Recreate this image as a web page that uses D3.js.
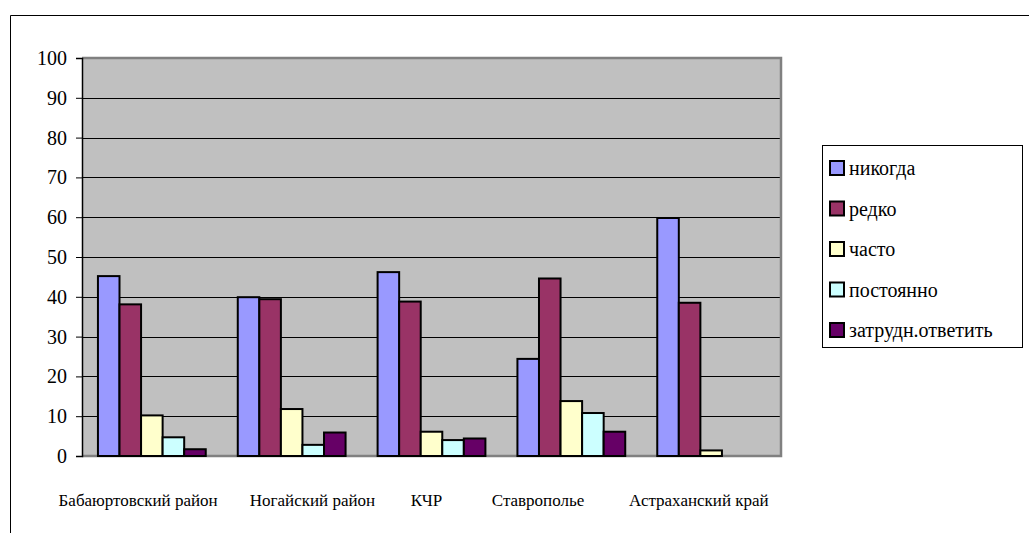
<!DOCTYPE html>
<html>
<head>
<meta charset="utf-8">
<script src="https://cdn.jsdelivr.net/npm/d3@7/dist/d3.min.js"></script>
<style>
  html, body { margin: 0; padding: 0; background: #fff; }
  #chart { display: block; }
  #chart text { font-family: "Liberation Serif", serif !important; }
</style>
</head>
<body>
<svg id="chart" width="1029" height="533"></svg>
<script>
// ---- data ----
const categories = ["Бабаюртовский район", "Ногайский район", "КЧР", "Ставрополье", "Астраханский край"];
const seriesNames = ["никогда", "редко", "часто", "постоянно", "затрудн.ответить"];
const nikogda    = [45.2, 39.9, 46.2, 24.4, 59.8];
const redko      = [38.1, 39.4, 38.8, 44.6, 38.5];
const chasto     = [10.2, 11.8, 6.1, 13.8, 1.4];
const postoyanno = [4.7, 2.8, 4.0, 10.8, 0];
const zatrudn    = [1.7, 5.9, 4.4, 6.1, 0];
const yTicks = [0, 10, 20, 30, 40, 50, 60, 70, 80, 90, 100];

const seriesValues = [nikogda, redko, chasto, postoyanno, zatrudn];
const colors = ["#9999FF", "#993366", "#FFFFCC", "#CCFFFF", "#660066"];

// ---- layout ----
const FONT = "Liberation Serif";
const plot = { left: 82, top: 58, right: 781, bottom: 456 };
const labelShift = [-13.7, 20.8, -5, -33.3, -12.3]; // Excel label placement offsets

const svg = d3.select("#chart");
function serif(sel, size) {
  sel.attr("font-family", FONT)
     .style("font-family", "'Liberation Serif', serif", "important")
     .style("font-size", size + "px", "important")
     .attr("fill", "#000");
}

// outer chart frame
svg.append("path")
  .attr("d", `M10.5,533 L10.5,15.5 L1029,15.5`)
  .attr("fill", "none").attr("stroke", "#000").attr("stroke-width", 1);

const x0 = d3.scaleBand().domain(categories).range([plot.left, plot.right])
  .paddingInner(0.229).paddingOuter(0.114);
const x1 = d3.scaleBand().domain(seriesNames).range([0, x0.bandwidth()]).padding(0);
const y = d3.scaleLinear().domain([0, 100]).range([plot.bottom, plot.top]);

// plot background
svg.append("rect")
  .attr("x", plot.left).attr("y", plot.top)
  .attr("width", plot.right - plot.left).attr("height", plot.bottom - plot.top)
  .attr("fill", "#C0C0C0");

// gridlines
svg.append("g").selectAll("line")
  .data(yTicks.filter(t => t > 0 && t < 100))
  .join("line")
  .attr("x1", plot.left).attr("x2", plot.right)
  .attr("y1", d => Math.round(y(d)) + 0.5).attr("y2", d => Math.round(y(d)) + 0.5)
  .attr("stroke", "#000").attr("stroke-width", 1);

// plot border (gray) top, right, bottom
svg.append("path")
  .attr("d", `M${plot.left},${plot.top} L${plot.right},${plot.top} L${plot.right},${plot.bottom} L${plot.left},${plot.bottom}`)
  .attr("fill", "none").attr("stroke", "#808080").attr("stroke-width", 2.5);

// bars
const groups = svg.append("g").selectAll("g")
  .data(categories)
  .join("g")
  .attr("transform", d => `translate(${x0(d)},0)`);

groups.selectAll("rect")
  .data((d, i) => seriesNames.map((s, j) => ({ s, v: seriesValues[j][i], c: colors[j] })).filter(e => e.v > 0))
  .join("rect")
  .attr("x", d => x1(d.s))
  .attr("y", d => y(d.v))
  .attr("width", x1.bandwidth())
  .attr("height", d => y(0) - y(d.v))
  .attr("fill", d => d.c)
  .attr("stroke", "#000")
  .attr("stroke-width", 2);

// y axis
const yAxis = d3.axisLeft(y).tickValues(yTicks).tickSize(6).tickPadding(9).tickFormat(d3.format("d"));
const gy = svg.append("g").attr("transform", `translate(${plot.left},0)`).call(yAxis);
gy.select(".domain").attr("stroke", "#000").attr("stroke-width", 1.5);
gy.selectAll(".tick line").attr("stroke", "#000");
gy.selectAll(".tick text").call(serif, 20);

// x labels
const xAxis = d3.axisBottom(x0).tickSize(0).tickPadding(0);
const gx = svg.append("g").attr("transform", `translate(0,${plot.bottom})`).call(xAxis);
gx.select(".domain").remove();
gx.selectAll(".tick text")
  .call(serif, 17)
  .attr("y", 50)
  .attr("dy", "0")
  .attr("dx", (d, i) => labelShift[i]);

// legend
const leg = svg.append("g");
leg.append("rect")
  .attr("x", 822.5).attr("y", 145.5).attr("width", 200).attr("height", 202)
  .attr("fill", "#fff").attr("stroke", "#000").attr("stroke-width", 1);
const legRow = d3.scalePoint().domain(seriesNames).range([168, 330]);
const items = leg.selectAll("g.item").data(seriesNames).join("g")
  .attr("class", "item")
  .attr("transform", d => `translate(0,${legRow(d)})`);
items.append("rect")
  .attr("x", 830).attr("y", -7).attr("width", 14).attr("height", 14)
  .attr("fill", (d, i) => colors[i]).attr("stroke", "#000").attr("stroke-width", 2);
items.append("text")
  .attr("x", 849).attr("y", 7)
  .call(serif, 20)
  .text(d => d);
</script>
</body>
</html>
